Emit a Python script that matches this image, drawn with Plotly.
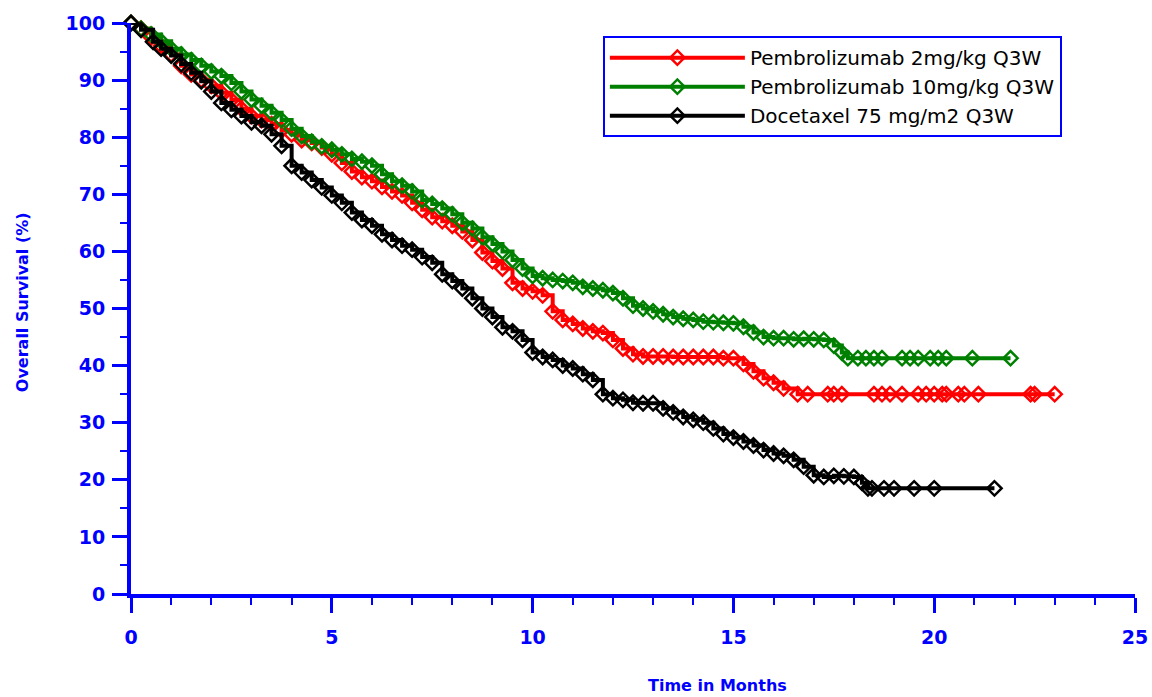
import plotly.graph_objects as go

# ---- data (Kaplan-Meier overall survival, %) ----
series_names = ["Pembrolizumab 2mg/kg Q3W", "Pembrolizumab 10mg/kg Q3W", "Docetaxel 75 mg/m2 Q3W"]
series_colors = ["#ff0000", "#008000", "#000000"]

t_pem2 = [0, 0.25, 0.5, 0.75, 1.0, 1.25, 1.5, 1.75, 2.0, 2.25, 2.5, 2.75, 3.0, 3.25, 3.5, 3.75,
          4.0, 4.25, 4.5, 4.75, 5.0, 5.25, 5.5, 5.75, 6.0, 6.25, 6.5, 6.75, 7.0, 7.25, 7.5, 7.75,
          8.0, 8.25, 8.5, 8.75, 9.0, 9.25, 9.5, 9.75, 10.0, 10.25, 10.5, 10.75, 11.0, 11.25, 11.5,
          11.75, 12.0, 12.25, 12.5, 12.75, 13.0, 13.25, 13.5, 13.75, 14.0, 14.25, 14.5, 14.75,
          15.0, 15.25, 15.5, 15.75, 16.0, 16.25, 16.6, 16.85, 17.35, 17.5, 17.7, 18.5, 18.7, 18.9,
          19.2, 19.6, 19.8, 20.0, 20.2, 20.3, 20.6, 20.75, 21.1, 22.4, 22.5, 23.0]
s_pem2 = [100, 99, 97.5, 96, 94.5, 92.5, 91, 90, 89, 87.8, 86.5, 85, 83.7, 83, 82.3, 81.2,
          80.5, 79.5, 79, 78.2, 77, 75.5, 74, 73, 72.3, 71.3, 70.5, 69.8, 68.5, 67.3, 66, 65.3,
          64.5, 63.5, 62, 59.8, 58.3, 57, 54.5, 53.5, 53, 52.3, 49.5, 48, 47.3, 46.5, 46,
          45.7, 44.5, 43, 42, 41.6, 41.6, 41.6, 41.5, 41.5, 41.5, 41.5, 41.5, 41.3,
          41.3, 40.3, 39, 37.8, 37, 36, 35, 35, 35, 35, 35, 35, 35, 35,
          35, 35, 35, 35, 35, 35, 35, 35, 35, 35, 35, 35]

t_pem10 = [0, 0.25, 0.5, 0.75, 1.0, 1.25, 1.5, 1.75, 2.0, 2.25, 2.5, 2.75, 3.0, 3.25, 3.5, 3.75,
           4.0, 4.25, 4.5, 4.75, 5.0, 5.25, 5.5, 5.75, 6.0, 6.25, 6.5, 6.75, 7.0, 7.25, 7.5, 7.75,
           8.0, 8.25, 8.5, 8.75, 9.0, 9.25, 9.5, 9.75, 10.0, 10.25, 10.5, 10.75, 11.0, 11.25, 11.5,
           11.75, 12.0, 12.25, 12.5, 12.75, 13.0, 13.25, 13.5, 13.75, 14.0, 14.25, 14.5, 14.75,
           15.0, 15.25, 15.5, 15.75, 16.0, 16.25, 16.5, 16.75, 17.0, 17.25, 17.5, 17.7, 17.85,
           18.1, 18.3, 18.5, 18.7, 19.2, 19.4, 19.6, 19.9, 20.1, 20.3, 20.95, 21.9]
s_pem10 = [100, 99, 98, 96.8, 95.5, 94.5, 93.5, 92.5, 91.5, 90.7, 89.5, 88, 86.6, 85.5, 84.3, 83,
           81.5, 80.2, 79.2, 78.4, 77.8, 77, 76.2, 75.7, 75, 73.5, 72.3, 71.5, 70.5, 69, 68.3, 67.5,
           66.5, 65, 64, 62.5, 61.3, 60, 58.5, 57, 55.7, 55.3, 55, 54.8, 54.5, 53.8, 53.5,
           53.2, 52.7, 51.8, 50.5, 50, 49.5, 49, 48.5, 48.2, 48, 47.7, 47.6, 47.5,
           47.4, 46.8, 45.8, 45, 44.8, 44.8, 44.6, 44.7, 44.6, 44.5, 43.5, 42.3, 41.3,
           41.3, 41.3, 41.3, 41.3, 41.3, 41.3, 41.3, 41.3, 41.3, 41.3, 41.3, 41.3]

t_doc = [0, 0.25, 0.55, 0.75, 1.0, 1.25, 1.5, 1.75, 2.0, 2.25, 2.5, 2.75, 3.0, 3.25, 3.5, 3.75,
         4.0, 4.25, 4.5, 4.75, 5.0, 5.25, 5.5, 5.75, 6.0, 6.25, 6.5, 6.75, 7.0, 7.25, 7.5, 7.75,
         8.0, 8.25, 8.5, 8.75, 9.0, 9.25, 9.5, 9.75, 10.0, 10.25, 10.5, 10.75, 11.0, 11.25, 11.5,
         11.75, 12.0, 12.25, 12.5, 12.75, 13.0, 13.25, 13.5, 13.75, 14.0, 14.25, 14.5, 14.75,
         15.0, 15.25, 15.5, 15.75, 16.0, 16.25, 16.5, 16.75, 17.0, 17.25, 17.5, 17.75, 18.0,
         18.2, 18.35, 18.45, 18.75, 19.0, 19.5, 20.0, 21.5]
s_doc = [100, 98.8, 96.7, 95.5, 94.3, 92.8, 91.3, 89.8, 88, 86, 84.8, 83.7, 82.6, 82, 80.5, 78.5,
         75, 73.8, 72.5, 71.2, 69.8, 68.5, 66.8, 65.5, 64.5, 63, 62, 61, 60.3, 59, 58, 56,
         54.8, 53.5, 51.8, 50, 48.5, 46.7, 46, 44.5, 42.3, 41.5, 41, 40, 39.5, 38.5, 37.5,
         35, 34.3, 34, 33.5, 33.4, 33.4, 32.5, 31.8, 31, 30.5, 30, 29, 28,
         27.4, 26.7, 26, 25.2, 24.6, 24.2, 23.5, 22.3, 20.8, 20.5, 20.7, 20.6, 20.5,
         19.5, 18.5, 18.5, 18.5, 18.5, 18.5, 18.5, 18.5]

times = [t_pem2, t_pem10, t_doc]
surv = [s_pem2, s_pem10, s_doc]

x_tickvals = [0, 5, 10, 15, 20, 25]
y_tickvals = [0, 10, 20, 30, 40, 50, 60, 70, 80, 90, 100]

BLUE = "#0000ff"

fig = go.Figure()
for name, col, t, s in zip(series_names, series_colors, times, surv):
    fig.add_trace(go.Scatter(
        x=t, y=s, name=name, mode="lines+markers",
        line=dict(color=col, width=4, shape="hv"),
        marker=dict(symbol="diamond-open", size=11, color=col, line=dict(width=2.5, color=col)),
        cliponaxis=False,
    ))

axis_common = dict(
    showline=True, linecolor=BLUE, linewidth=4,
    ticks="outside", ticklen=15, tickwidth=2.5, tickcolor=BLUE,
    showgrid=False, zeroline=False, automargin=False,
    tickfont=dict(family="DejaVu Sans", size=19, color=BLUE, weight="bold"),
)

fig.update_layout(
    width=1152, height=697,
    margin=dict(l=131, r=17, t=23, b=103),
    paper_bgcolor="white", plot_bgcolor="white",
    showlegend=True,
    legend=dict(
        x=0.47, y=0.977, xanchor="left", yanchor="top",
        bgcolor="white", bordercolor=BLUE, borderwidth=2,
        font=dict(family="DejaVu Sans", size=20, color="black"),
        itemwidth=135, tracegroupgap=0,
    ),
    xaxis=dict(
        range=[0, 25], tickvals=x_tickvals, ticktext=[str(v) for v in x_tickvals],
        minor=dict(ticks="outside", ticklen=7, tickwidth=2, tickcolor=BLUE, dtick=1, showgrid=False),
        ticklabelstandoff=8,
        **axis_common,
    ),
    yaxis=dict(
        range=[0, 100], tickvals=y_tickvals, ticktext=[str(v) for v in y_tickvals],
        minor=dict(ticks="outside", ticklen=7, tickwidth=2, tickcolor=BLUE, dtick=5, showgrid=False),
        ticklabelstandoff=3,
        **axis_common,
    ),
    annotations=[
        dict(text="Time in Months", xref="paper", yref="paper", x=0.584, y=-0.161,
             xanchor="center", yanchor="middle", showarrow=False,
             font=dict(family="DejaVu Sans", size=16, color=BLUE, weight="bold")),
        dict(text="Overall Survival (%)", xref="paper", yref="paper", x=-0.1086, y=0.511,
             xanchor="center", yanchor="middle", showarrow=False, textangle=-90,
             font=dict(family="DejaVu Sans", size=16, color=BLUE, weight="bold")),
    ],
)

# remove the browser's default 8px body margin so the 1152x697 figure fills the window exactly
fig.write_html("out.html", config={"displayModeBar": False},
               post_script="document.body.style.margin='0px';")
